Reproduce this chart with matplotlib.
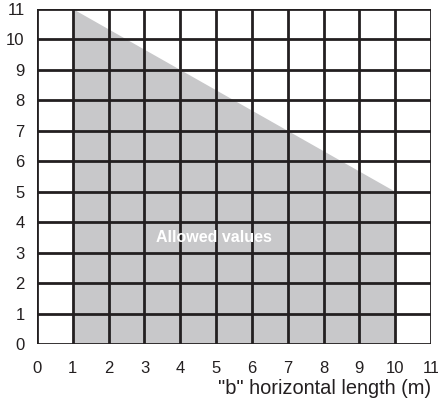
import matplotlib
matplotlib.use("Agg")
from matplotlib import pyplot as plt

plt.rcParams["font.family"] = ["Liberation Sans", "DejaVu Sans"]

# allowed region outline (b length, height)
region_x = [1, 1, 10, 10]
region_y = [0, 11, 5, 0]
ticks = list(range(0, 12))

fig = plt.figure(figsize=(4.39, 4.03), dpi=100)
ax = fig.add_axes([0.0843, 0.1464, 0.8975, 0.8313])

ax.fill(region_x, region_y, color="#c8c8ca", lw=0, zorder=1)

for t in ticks:
    ax.axvline(t, color="#231f20", lw=2, zorder=2)
    ax.axhline(t, color="#231f20", lw=2, zorder=2)

ax.text(4.95, 3.5, "Allowed values", color="white", fontsize=11.5, fontweight="bold",
        ha="center", va="center", zorder=3)

ax.set_xlim(0, 11)
ax.set_ylim(0, 11)
ax.set_xticks(ticks)
ax.set_yticks(ticks)
ax.tick_params(length=0, labelsize=12, colors="#231f20")
ax.tick_params(axis="x", pad=12)
ax.tick_params(axis="y", pad=9)
for s in ax.spines.values():
    s.set_visible(False)

fig.text(0.982, 0.012, '"b" horizontal length (m)', ha="right", va="bottom",
         fontsize=14.4, color="#231f20")

fig.savefig("out.png", dpi=100)
